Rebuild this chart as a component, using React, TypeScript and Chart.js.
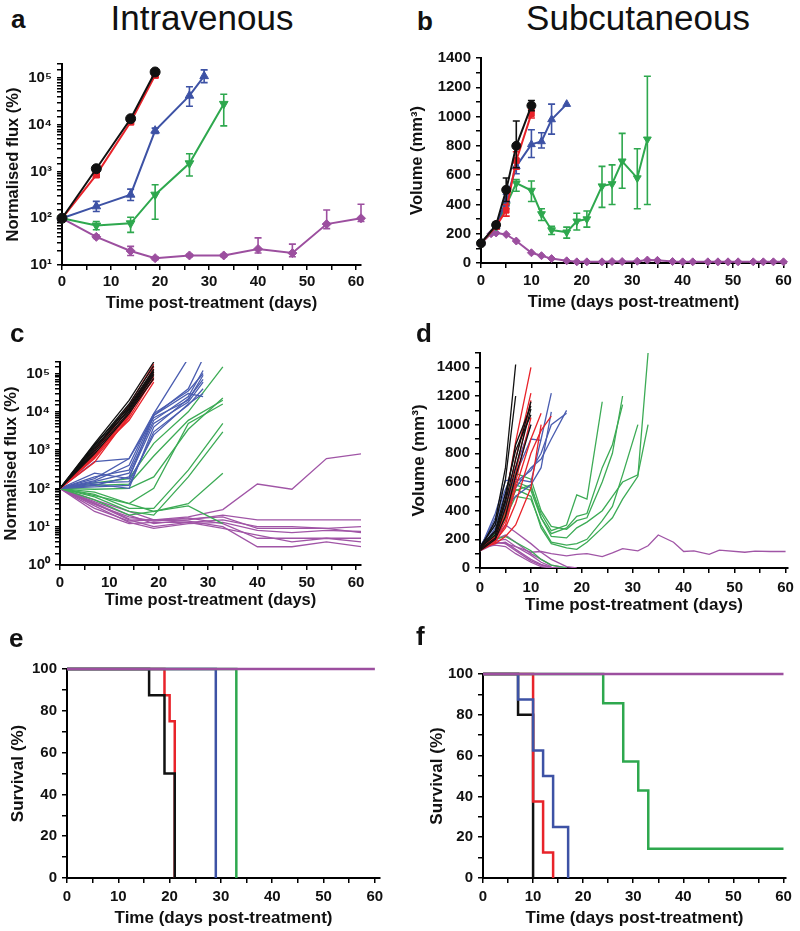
import React, { useEffect, useRef } from "react";
import { Chart, registerables } from "chart.js";
Chart.register(...registerables);

const FONT = "'Liberation Sans', Arial, Helvetica, sans-serif";
const COL = {
  black: "#111111",
  red: "#e8232a",
  blue: "#3d52a5",
  green: "#2ea84e",
  purple: "#9c4f9f",
};
const SUP = ["⁰", "¹", "²", "³", "⁴", "⁵", "⁶"];

// ---------------- Panel a : IV mean normalised flux ----------------
const ivBlackDays = [0, 7, 14, 19];
const ivBlackMean = [100, 1150, 13500, 135000];
const ivBlackHi = [100, 1300, 15000, 150000];
const ivBlackLo = [100, 1000, 12000, 120000];
const ivRedDays = [0, 7, 14, 19];
const ivRedMean = [100, 850, 11500, 115000];
const ivRedHi = [100, 950, 12500, 125000];
const ivRedLo = [100, 760, 10500, 105000];
const ivBlueDays = [0, 7, 14, 19, 26, 29];
const ivBlueMean = [100, 180, 320, 7500, 42000, 110000];
const ivBlueHi = [100, 230, 420, 8500, 65000, 150000];
const ivBlueLo = [100, 140, 240, 6500, 25000, 80000];
const ivGreenDays = [0, 7, 14, 19, 26, 33];
const ivGreenMean = [100, 70, 78, 320, 1500, 28000];
const ivGreenHi = [100, 85, 105, 520, 2400, 45000];
const ivGreenLo = [100, 57, 50, 95, 800, 9500];
const ivPurpleDays = [0, 7, 14, 19, 26, 33, 40, 47, 54, 61];
const ivPurpleMean = [100, 40, 20, 14, 16, 16, 22, 18, 75, 100];
const ivPurpleHi = [100, 44, 25, 15, 17, 17, 38, 28, 150, 200];
const ivPurpleLo = [100, 37, 16, 13, 15, 15, 18, 15, 60, 85];

// ---------------- Panel b : SC mean volume ----------------
const scBlackDays = [0, 3, 5, 7, 10];
const scBlackMean = [135, 260, 500, 800, 1075];
const scBlackHi = [145, 280, 580, 970, 1110];
const scBlackLo = [125, 240, 420, 650, 1040];
const scRedDays = [0, 3, 5, 7, 10];
const scRedMean = [135, 250, 360, 700, 1020];
const scRedHi = [145, 270, 400, 760, 1050];
const scRedLo = [125, 230, 320, 640, 990];
const scBlueDays = [0, 3, 5, 7, 10, 12, 14, 17];
const scBlueMean = [135, 250, 430, 660, 810, 830, 980, 1085];
const scBlueHi = [145, 270, 470, 710, 910, 890, 1085, 1085];
const scBlueLo = [125, 230, 390, 610, 720, 785, 880, 1085];
const scGreenDays = [0, 3, 5, 7, 10, 12, 14, 17, 19, 21, 24, 26, 28, 31, 33];
const scGreenMean = [135, 250, 395, 545, 495, 335, 225, 210, 285, 300, 525, 540, 695, 580, 845];
const scGreenHi = [145, 270, 420, 570, 560, 370, 250, 245, 340, 355, 660, 670, 885, 780, 1275];
const scGreenLo = [125, 230, 370, 490, 420, 290, 195, 170, 225, 245, 380, 400, 510, 370, 400];
const scPurpleDays = [0, 2, 3, 5, 7, 10, 12, 14, 17, 19, 21, 24, 26, 28, 31, 33, 35, 38, 40, 42, 45, 47, 49, 51, 54, 56, 58, 60];
const scPurpleMean = [135, 200, 205, 195, 150, 70, 50, 30, 15, 8, 8, 8, 10, 10, 12, 20, 18, 10, 8, 8, 8, 8, 8, 8, 8, 8, 8, 8];

// ---------------- Panel c : IV individual mice ----------------
const ivMouseDays = [0, 7, 14, 19, 26, 29];
const ivMouseDaysGreen = [0, 7, 14, 19, 26, 33];
const ivMouseDaysPurple = [0, 7, 14, 19, 26, 33, 40, 47, 54, 61];
const ivMiceBlack = [
  [100, 1500, 20000, 200000],
  [100, 1300, 16000, 160000],
  [100, 1100, 14000, 130000],
  [100, 1000, 12000, 110000],
  [100, 900, 10000, 90000],
  [100, 1200, 11000, 100000],
  [100, 800, 9000, 75000],
  [100, 1400, 13000, 120000],
];
const ivMiceRed = [
  [100, 480, 8000, 150000],
  [100, 700, 9000, 110000],
  [100, 900, 12000, 130000],
  [100, 600, 7000, 80000],
  [100, 800, 6000, 60000],
  [100, 1000, 15000, 180000],
  [100, 650, 8500, 95000],
  [100, 750, 10000, 70000],
];
const ivMiceBlue = [
  [100, 500, 600, 9000, 250000],
  [100, 200, 300, 8000, 40000, 250000],
  [100, 150, 250, 6000, 25000, 120000],
  [100, 180, 600, 7000, 20000, 90000],
  [100, 120, 200, 5000, 18000, 60000],
  [100, 110, 120, 3000, 15000, 40000],
  [100, 250, 180, 8000, 30000, 25000],
  [100, 130, 100, 4000, 22000, 70000],
  [100, 160, 400, 9000, 35000, 100000],
  [100, 140, 150, 2500, 16000, 30000],
];
const ivMiceGreen = [
  [100, 140, 180, 1500, 10000, 150000],
  [100, 120, 130, 700, 6000, 20000],
  [100, 95, 100, 200, 3500, 23000],
  [100, 80, 40, 100, 5000, 16000],
  [100, 70, 30, 30, 300, 5000],
  [100, 60, 25, 20, 200, 3000],
  [100, 65, 40, 25, 40, 250],
  [100, 50, 20, 25, 35, 12],
];
const ivMicePurple = [
  [100, 50, 25, 15, 18, 28, 130, 95, 600, 800],
  [100, 45, 20, 12, 15, 20, 15, 15, 15, 15],
  [100, 40, 15, 10, 13, 15, 10, 10, 9, 10],
  [100, 35, 13, 9, 12, 13, 8, 7, 8, 7.5],
  [100, 30, 14, 15, 16, 18, 9, 9, 9, 7],
  [100, 38, 18, 14, 17, 12, 5, 5, 5, 5],
  [100, 42, 16, 15, 14, 10, 3, 3, 4, 3],
  [100, 25, 12, 13, 13, 9, 6, 4, 5, 4],
];

// ---------------- Panel d : SC individual mice ----------------
const scMouseDays = [0, 3, 5, 7, 10, 12, 14, 17, 19, 21, 24, 26, 28, 31, 33];
const scMiceBlack = [
  [130, 330, 700, 1420],
  [150, 300, 620, 1200],
  [140, 230, 460, 760, 1160],
  [130, 210, 420, 700, 1110],
  [150, 260, 520, 820, 1070],
  [120, 200, 360, 640, 1000],
  [140, 250, 480, 860, 1130],
];
const scMiceRed = [
  [130, 220, 480, 880, 1400],
  [140, 200, 400, 760, 1220],
  [150, 210, 360, 660, 1170],
  [120, 180, 300, 560, 900, 1080],
  [130, 190, 280, 450, 800, 960, 1060],
  [140, 170, 220, 300, 560, 1000],
  [135, 200, 330, 600, 1050],
];
const scMiceBlue = [
  [130, 380, 610, 620, 600, 900, 1220],
  [140, 300, 480, 650, 900, 890],
  [150, 320, 520, 560, 700, 760, 900, 1100],
  [130, 260, 450, 600, 680, 800, 1000, 1080],
  [120, 280, 420, 500, 580, 700, 1090],
  [135, 350, 550, 700, 1000],
];
const scMiceGreen = [
  [130, 250, 400, 600, 560, 380, 260, 300, 510, 480, 1160],
  [130, 240, 420, 660, 620, 400, 290, 270, 330, 350, 600, 800, 1200],
  [140, 230, 380, 580, 540, 350, 240, 280, 360, 380, 700, 860, 1140],
  [120, 220, 350, 500, 480, 300, 180, 160, 170, 200, 330, 430, 650, 1000],
  [130, 230, 360, 550, 500, 280, 170, 140, 130, 180, 280, 350, 480, 640, 1500],
  [140, 240, 380, 540, 580, 350, 220, 210, 280, 320, 400, 500, 600, 650, 1000],
  [130, 200, 220, 180, 120, 60, 20, 0],
];
const scMicePurple = [
  [130, 200, 230, 180, 100, 60, 20, 0],
  [140, 190, 200, 150, 90, 40, 10],
  [120, 170, 180, 130, 60, 25, 5, 0],
  [150, 210, 300, 250, 170, 110, 60, 10, 0],
  [130, 180, 170, 120, 50, 20, 5],
  [140, 160, 150, 100, 40, 10, 0],
];
const scLongPurpleDays = [0, 3, 5, 7, 10, 12, 14, 17, 19, 21, 24, 26, 28, 31, 33, 35, 38, 40, 42, 45, 47, 52, 54, 57, 60];
const scLongPurple = [130, 180, 170, 150, 110, 115, 100, 85, 95, 100, 80, 105, 135, 120, 155, 230, 180, 115, 120, 95, 125, 110, 118, 115, 115];

// ---------------- Panel e : IV survival ----------------
const ivSurvBlackT = [0, 16, 19, 21];
const ivSurvBlackS = [100, 87.5, 50, 0];
const ivSurvRedT = [0, 19, 20, 21];
const ivSurvRedS = [100, 87.5, 75, 0];
const ivSurvBlueT = [0, 29];
const ivSurvBlueS = [100, 0];
const ivSurvGreenT = [0, 33];
const ivSurvGreenS = [100, 0];
const ivSurvPurpleT = [0, 60];
const ivSurvPurpleS = [100, 100];

// ---------------- Panel f : SC survival ----------------
const scSurvBlackT = [0, 7, 10];
const scSurvBlackS = [100, 80, 0];
const scSurvRedT = [0, 10, 12, 14];
const scSurvRedS = [100, 37.5, 12.5, 0];
const scSurvBlueT = [0, 7, 10, 12, 14, 17];
const scSurvBlueS = [100, 87.5, 62.5, 50, 25, 0];
const scSurvGreenT = [0, 24, 28, 31, 33, 60];
const scSurvGreenS = [100, 85.7, 57.1, 42.9, 14.3, 14.3];
const scSurvPurpleT = [0, 60];
const scSurvPurpleS = [100, 100];

// ---------------- helpers ----------------
const pts = (days: number[], vals: number[]) => vals.map((v, i) => ({ x: days[i], y: v }));

const errorBars = {
  id: "errorBars",
  afterDatasetDraw(chart: any, args: any) {
    const ds: any = chart.data.datasets[args.index];
    if (!ds.errHi) return;
    const { ctx, scales } = chart;
    const xs = scales.x, ys = scales.y;
    ctx.save();
    ctx.strokeStyle = ds.borderColor;
    ctx.lineWidth = 1.6;
    ds.data.forEach((p: any, j: number) => {
      const hi = ds.errHi[j], lo = ds.errLo[j];
      if (hi == null || lo == null || hi === lo) return;
      const px = xs.getPixelForValue(p.x);
      const a = ys.getPixelForValue(hi), b = ys.getPixelForValue(lo);
      ctx.beginPath();
      ctx.moveTo(px, a); ctx.lineTo(px, b);
      ctx.moveTo(px - 3.5, a); ctx.lineTo(px + 3.5, a);
      ctx.moveTo(px - 3.5, b); ctx.lineTo(px + 3.5, b);
      ctx.stroke();
    });
    ctx.restore();
  },
};

type Geo = { cx: number; cy: number; cw: number; L: number; R: number; T: number; B: number; yTitleX: number; xTitleY: number; xSize: number; ySize: number };
function geo(g: Geo) {
  const ylh = g.ySize * 1.2;
  const xlh = g.xSize * 1.2;
  const padLeft = g.yTitleX - ylh / 2 - g.cx;
  const yW = g.L - g.cx - padLeft;
  const padTop = g.T - g.cy;
  const bottom = g.xTitleY + xlh / 2;
  const xH = bottom - g.B;
  const h = Math.ceil(bottom - g.cy + 2);
  const padRight = g.cx + g.cw - g.R;
  const padBottom = h - (bottom - g.cy);
  return { padLeft, yW, padTop, xH, h, padRight, padBottom, xSize: g.xSize, ySize: g.ySize };
}

const tickFont = { family: FONT, size: 15, weight: "bold" as const };
const axisCommon = {
  border: { color: "#000", width: 2 },
  grid: { drawOnChartArea: false, drawTicks: true, tickLength: 5, color: "#000", lineWidth: 1.5 },
};

function xAxis(max: number, title: string, G: any, labelPad: number) {
  return {
    type: "linear",
    min: 0,
    max,
    ...axisCommon,
    ticks: {
      stepSize: 5, autoSkip: false, maxRotation: 0, includeBounds: false, padding: labelPad,
      color: "#111", font: tickFont,
      callback: (v: any) => (Number(v) % 10 === 0 ? String(v) : ""),
    },
    title: { display: true, text: title, color: "#111", padding: 0, font: { family: FONT, size: G.xSize, weight: "bold" } },
    afterFit: (s: any) => { s.height = G.xH; },
  };
}

function yLinear(max: number, step: number, every: number, title: string, G: any) {
  return {
    type: "linear",
    min: 0,
    max,
    ...axisCommon,
    ticks: {
      stepSize: step, autoSkip: false, padding: 5, color: "#111", font: tickFont,
      callback: (v: any) => (Number(v) % every === 0 ? String(v) : ""),
    },
    title: { display: true, text: title, color: "#111", padding: 0, font: { family: FONT, size: G.ySize, weight: "bold" } },
    afterFit: (s: any) => { s.width = G.yW; },
  };
}

function yLog(min: number, max: number, title: string, G: any) {
  return {
    type: "logarithmic",
    min,
    max,
    ...axisCommon,
    ticks: {
      autoSkip: false, padding: 5, color: "#111", font: tickFont,
      callback: (v: any) => {
        const e = Math.log10(Number(v));
        const r = Math.round(e);
        return Math.abs(e - r) < 1e-6 ? "10" + SUP[r] : "";
      },
    },
    title: { display: true, text: title, color: "#111", padding: 0, font: { family: FONT, size: G.ySize, weight: "bold" } },
    afterFit: (s: any) => { s.width = G.yW; },
  };
}

function baseOptions(G: ReturnType<typeof geo>, scales: any) {
  return {
    responsive: false,
    animation: false,
    layout: { padding: { left: G.padLeft, right: G.padRight, top: G.padTop, bottom: G.padBottom } },
    plugins: { legend: { display: false }, tooltip: { enabled: false } },
    elements: { line: { tension: 0 } },
    scales,
  };
}

const meanDs = (days: number[], mean: number[], hi: number[] | null, lo: number[] | null, color: string, style: string, r: number, rot = 0) => ({
  data: pts(days, mean),
  borderColor: color,
  backgroundColor: color,
  borderWidth: 2,
  pointStyle: style,
  pointRadius: r,
  pointRotation: rot,
  pointBorderWidth: 1,
  clip: false,
  errHi: hi,
  errLo: lo,
});

const miceDs = (days: number[], rows: number[][], color: string, w = 1.3) =>
  rows.map((r) => ({ data: pts(days, r), borderColor: color, borderWidth: w, pointRadius: 0, fill: false }));

const survDs = (t: number[], s: number[], color: string) => ({
  data: pts(t, s),
  borderColor: color,
  borderWidth: 2.5,
  pointRadius: 0,
  stepped: "before",
  fill: false,
  clip: false,
});

// ---------------- geometry ----------------
const gA = geo({ cx: 0, cy: 40, cw: 374, L: 62, R: 361, T: 64, B: 265, yTitleX: 13, xTitleY: 303, xSize: 16.5, ySize: 16.5 });
const gB = geo({ cx: 400, cy: 40, cw: 400, L: 481, R: 786, T: 58, B: 263, yTitleX: 417, xTitleY: 302, xSize: 16.5, ySize: 16.5 });
const gC = geo({ cx: 0, cy: 320, cw: 374, L: 60, R: 361, T: 362, B: 565, yTitleX: 11, xTitleY: 600, xSize: 16.5, ySize: 16.5 });
const gD = geo({ cx: 400, cy: 320, cw: 400, L: 480, R: 790, T: 353, B: 568, yTitleX: 419, xTitleY: 605, xSize: 17, ySize: 17 });
const gE = geo({ cx: 0, cy: 620, cw: 392, L: 67, R: 380, T: 669, B: 878, yTitleX: 18, xTitleY: 918, xSize: 17, ySize: 17 });
const gF = geo({ cx: 400, cy: 620, cw: 400, L: 483, R: 786, T: 674, B: 878, yTitleX: 437, xTitleY: 918, xSize: 17, ySize: 17 });

function makeA() {
  return {
    type: "line",
    data: {
      datasets: [
        meanDs(ivBlackDays, ivBlackMean, ivBlackHi, ivBlackLo, COL.black, "circle", 5),
        meanDs(ivRedDays, ivRedMean, ivRedHi, ivRedLo, COL.red, "rect", 4.5),
        meanDs(ivBlueDays, ivBlueMean, ivBlueHi, ivBlueLo, COL.blue, "triangle", 5),
        meanDs(ivGreenDays, ivGreenMean, ivGreenHi, ivGreenLo, COL.green, "triangle", 5, 180),
        meanDs(ivPurpleDays, ivPurpleMean, ivPurpleHi, ivPurpleLo, COL.purple, "rectRot", 4.5),
      ],
    },
    options: baseOptions(gA, {
      x: xAxis(61, "Time post-treatment (days)", gA, 3),
      y: yLog(10, 200000, "Normalised flux (%)", gA),
    }),
    plugins: [errorBars],
  };
}

function makeB() {
  return {
    type: "line",
    data: {
      datasets: [
        meanDs(scBlackDays, scBlackMean, scBlackHi, scBlackLo, COL.black, "circle", 4.5),
        meanDs(scRedDays, scRedMean, scRedHi, scRedLo, COL.red, "rect", 4),
        meanDs(scBlueDays, scBlueMean, scBlueHi, scBlueLo, COL.blue, "triangle", 4.5),
        meanDs(scGreenDays, scGreenMean, scGreenHi, scGreenLo, COL.green, "triangle", 4.5, 180),
        meanDs(scPurpleDays, scPurpleMean, null, null, COL.purple, "rectRot", 4),
      ],
    },
    options: baseOptions(gB, {
      x: xAxis(60.5, "Time (days post-treatment)", gB, 4),
      y: yLinear(1400, 100, 200, "Volume (mm³)", gB),
    }),
    plugins: [errorBars],
  };
}

function makeC() {
  return {
    type: "line",
    data: {
      datasets: [
        ...miceDs(ivMouseDays, ivMiceBlack, COL.black),
        ...miceDs(ivMouseDays, ivMiceRed, COL.red),
        ...miceDs(ivMouseDays, ivMiceBlue, "#4a5db0"),
        ...miceDs(ivMouseDaysGreen, ivMiceGreen, "#3cab55"),
        ...miceDs(ivMouseDaysPurple, ivMicePurple, "#a055a6"),
      ],
    },
    options: baseOptions(gC, {
      x: xAxis(61, "Time post-treatment (days)", gC, 4),
      y: yLog(1, 200000, "Normalised flux (%)", gC),
    }),
  };
}

function makeD() {
  return {
    type: "line",
    data: {
      datasets: [
        ...miceDs(scMouseDays, scMiceBlack, COL.black),
        ...miceDs(scMouseDays, scMiceRed, COL.red),
        ...miceDs(scMouseDays, scMiceBlue, "#4a5db0"),
        ...miceDs(scMouseDays, scMiceGreen, "#3cab55"),
        ...miceDs(scMouseDays, scMicePurple, "#a055a6"),
        ...miceDs(scLongPurpleDays, [scLongPurple], "#a055a6"),
      ],
    },
    options: baseOptions(gD, {
      x: xAxis(60.5, "Time post-treatment (days)", gD, 6),
      y: yLinear(1500, 100, 200, "Volume (mm³)", gD),
    }),
  };
}

function makeE() {
  return {
    type: "line",
    data: {
      datasets: [
        survDs(ivSurvPurpleT, ivSurvPurpleS, COL.purple),
        survDs(ivSurvGreenT, ivSurvGreenS, COL.green),
        survDs(ivSurvBlueT, ivSurvBlueS, COL.blue),
        survDs(ivSurvBlackT, ivSurvBlackS, COL.black),
        survDs(ivSurvRedT, ivSurvRedS, COL.red),
      ],
    },
    options: baseOptions(gE, {
      x: xAxis(61, "Time (days post-treatment)", gE, 5),
      y: yLinear(100, 10, 20, "Survival (%)", gE),
    }),
  };
}

function makeF() {
  return {
    type: "line",
    data: {
      datasets: [
        survDs(scSurvPurpleT, scSurvPurpleS, COL.purple),
        survDs(scSurvGreenT, scSurvGreenS, COL.green),
        survDs(scSurvBlueT, scSurvBlueS, COL.blue),
        survDs(scSurvRedT, scSurvRedS, COL.red),
        survDs(scSurvBlackT, scSurvBlackS, COL.black),
      ],
    },
    options: baseOptions(gF, {
      x: xAxis(60.5, "Time (days post-treatment)", gF, 5),
      y: yLinear(100, 10, 20, "Survival (%)", gF),
    }),
  };
}

function Panel({ x, y, w, h, make }: { x: number; y: number; w: number; h: number; make: () => any }) {
  const ref = useRef<HTMLCanvasElement>(null);
  useEffect(() => {
    const chart = new Chart(ref.current as HTMLCanvasElement, make());
    return () => chart.destroy();
  }, []);
  return (
    <canvas
      ref={ref}
      width={w}
      height={h}
      style={{ position: "absolute", left: x, top: y, width: w, height: h }}
    />
  );
}

function Label({ text, left, baseline, size, bold, center }: { text: string; left: number; baseline: number; size: number; bold?: boolean; center?: boolean }) {
  const top = baseline - 0.8465 * size;
  const style: any = {
    position: "absolute",
    top,
    fontFamily: FONT,
    fontSize: size,
    lineHeight: 1,
    fontWeight: bold ? "bold" : "normal",
    color: "#111",
    whiteSpace: "nowrap",
  };
  if (center) {
    style.left = left - 200;
    style.width = 400;
    style.textAlign = "center";
  } else {
    style.left = left;
  }
  return <div style={style}>{text}</div>;
}

export default function App() {
  return (
    <div style={{ position: "absolute", left: 0, top: 0, width: 800, height: 931, background: "#fff", overflow: "hidden" }}>
      <Panel x={0} y={40} w={374} h={gA.h} make={makeA} />
      <Panel x={400} y={40} w={400} h={gB.h} make={makeB} />
      <Panel x={0} y={320} w={374} h={gC.h} make={makeC} />
      <Panel x={400} y={320} w={400} h={gD.h} make={makeD} />
      <Panel x={0} y={620} w={392} h={gE.h} make={makeE} />
      <Panel x={400} y={620} w={400} h={gF.h} make={makeF} />
      <Label text="Intravenous" left={202} baseline={30} size={35} center />
      <Label text="Subcutaneous" left={638} baseline={30} size={35} center />
      <Label text="a" left={11} baseline={28} size={26} bold />
      <Label text="b" left={417} baseline={30} size={26} bold />
      <Label text="c" left={10} baseline={342} size={26} bold />
      <Label text="d" left={416} baseline={342} size={26} bold />
      <Label text="e" left={9} baseline={647} size={26} bold />
      <Label text="f" left={416} baseline={645} size={26} bold />
    </div>
  );
}
